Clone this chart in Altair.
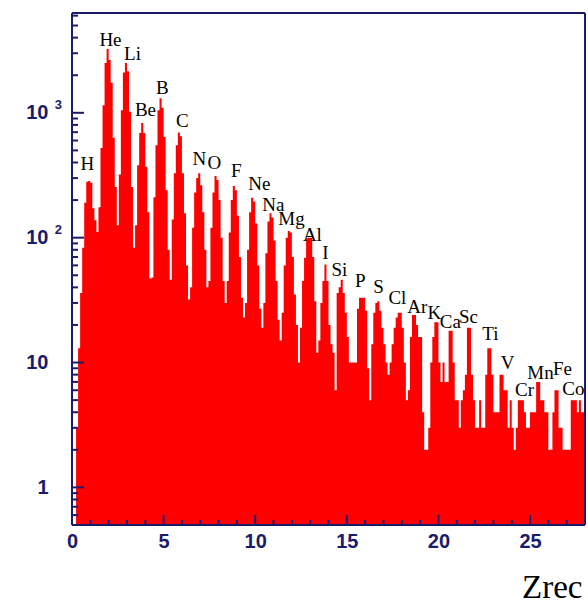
import altair as alt
import pandas as pd

# Histogram of reconstructed charge: 252 bins of width 1/9 between 0 and 28
Z_MIN, Z_MAX = 0.0, 28.0
N_BINS = 252
Y_MIN, Y_MAX = 0.5, 6300

counts = [
    0, 0, 3, 13, 36, 83, 190, 280, 285,
    275, 172, 138, 111, 175, 523, 1150, 2500, 3250,
    2650, 1740, 630, 255, 126, 320, 1050, 2100, 2500,
    2150, 1020, 255, 83, 126, 380, 690, 830, 690,
    370, 160, 47, 48, 211, 550, 1050, 1310, 1100,
    640, 240, 80, 46, 140, 328, 550, 694, 650,
    328, 157, 60, 32, 40, 120, 230, 300, 328,
    263, 160, 80, 40, 45, 120, 230, 312, 290,
    200, 100, 45, 30, 45, 110, 200, 259, 240,
    150, 70, 33, 23, 30, 80, 160, 209, 195,
    130, 60, 27, 19, 30, 75, 135, 157, 145,
    95, 45, 22, 15, 25, 60, 100, 113, 110,
    70, 35, 20, 10, 19, 45, 69, 99, 100,
    100, 70, 31, 12, 15, 30, 45, 61, 45,
    20, 14, 12, 6, 36, 40, 46, 36, 25,
    16, 10, 10, 10, 10, 27, 33, 33, 33,
    26, 9, 5, 14, 25, 30, 31, 26, 19,
    14, 10, 8, 10, 14, 19, 23, 25, 25,
    19, 10, 5, 6, 16, 24, 24, 20, 16,
    16, 4, 2, 2, 3, 10, 16, 21, 21,
    10, 7, 10, 7, 7, 18, 18, 10, 5,
    5, 3, 5, 6, 8, 19, 19, 8, 5,
    3, 3, 5, 3, 3, 8, 13, 13, 8,
    4, 4, 4, 8, 8, 6, 6, 3, 5,
    3, 2, 3, 5, 5, 5, 4, 3, 3,
    4, 4, 4, 7, 7, 5, 5, 4, 4,
    2, 2, 4, 6, 6, 3, 3, 2, 2,
    2, 2, 5, 5, 5, 4, 5, 4, 4,
]

# Element names written above the charge peaks
element_names = ["H", "He", "Li", "Be", "B", "C", "N", "O", "F", "Ne", "Na", "Mg", "Al", "I",
                 "Si", "P", "S", "Cl", "Ar", "K", "Ca", "Sc", "Ti", "V", "Cr", "Mn", "Fe", "Co"]
element_z = [0.84, 2.10, 3.30, 4.01, 4.93, 6.02, 6.95, 7.77, 8.97, 10.23, 10.99, 11.98, 13.12, 13.83,
             14.59, 15.74, 16.73, 17.76, 18.85, 19.78, 20.65, 21.64, 22.84, 23.77, 24.70, 25.57, 26.77, 27.37]
element_n = [390, 3850, 2970, 1057, 1585, 863, 428, 397, 343, 269, 183, 141, 105, 75,
             55, 45, 40, 33, 28, 25, 21, 23, 17, 10, 6.0, 8.2, 8.9, 6.1]

x_major = [0, 5, 10, 15, 20, 25]
x_minor = [v for v in range(1, 28) if v % 5]
y_major = [1, 10, 100, 1000]
y_minor = [0.6, 0.7, 0.8, 0.9] + [m * d for d in (1, 10, 100) for m in range(2, 10)] + [2000, 3000, 4000, 5000, 6000]
exponents = pd.DataFrame({"v": [1000, 100], "e": ["3", "2"]})

# Step outline: left edge of every bin, plus the right edge of the last one
bin_w = (Z_MAX - Z_MIN) / N_BINS
hist = pd.DataFrame({
    "edge": [Z_MIN + i * bin_w for i in range(N_BINS)] + [Z_MAX],
    "n": counts + [counts[-1]],
})
labels = pd.DataFrame({"name": element_names, "z": element_z, "n": element_n})

NAVY = "#1b1b6b"
RED = "#ff0000"
W, H = 513, 512

xs = alt.Scale(domain=[Z_MIN, Z_MAX], nice=False, zero=False)
ys = alt.Scale(type="log", domain=[Y_MIN, Y_MAX], nice=False)

bars = alt.Chart(hist).transform_filter("datum.n > 0").mark_area(
    color=RED, interpolate="step-after", clip=True, opacity=1
).encode(
    x=alt.X("edge:Q", scale=xs, axis=alt.Axis(
        values=x_major, format="d", domain=False, ticks=False, tickSize=0, grid=False,
        labelFlush=False, labelOverlap=False,
        labelFont="Liberation Sans", labelFontWeight="bold", labelFontSize=20,
        labelColor=NAVY, labelPadding=6,
        title="Zrec", titleFont="Liberation Serif", titleFontSize=33,
        titleFontWeight="normal", titleColor="black", titleAlign="right",
        titleBaseline="alphabetic", titleX=W - 3, titleY=72)),
    y=alt.Y("n:Q", scale=ys, axis=alt.Axis(
        values=y_major, labelExpr="datum.value >= 10 ? '10' : '1'",
        domain=False, ticks=False, tickSize=0, grid=False, labelFlush=False,
        labelFont="Liberation Sans", labelFontWeight="bold", labelFontSize=20,
        labelColor=NAVY, labelPadding=24, title=None)),
    y2=alt.datum(Y_MIN),
)

exp_text = alt.Chart(exponents).mark_text(
    align="right", baseline="middle", dy=-8, font="Liberation Sans",
    fontWeight="bold", fontSize=13, color=NAVY
).encode(x=alt.value(-10), y=alt.Y("v:Q", scale=ys), text="e:N")

names = alt.Chart(labels).mark_text(
    font="Liberation Serif", fontSize=19, color="black", baseline="middle", align="center"
).encode(x=alt.X("z:Q", scale=xs), y=alt.Y("n:Q", scale=ys), text="name:N")

def yticks(vals, length):
    return alt.Chart(pd.DataFrame({"v": vals})).mark_rule(color=NAVY, strokeWidth=2).encode(
        y=alt.Y("v:Q", scale=ys), x=alt.value(0), x2=alt.value(length))

def xticks(vals, length):
    return alt.Chart(pd.DataFrame({"v": vals})).mark_rule(color=NAVY, strokeWidth=2).encode(
        x=alt.X("v:Q", scale=xs), y=alt.value(H), y2=alt.value(H - length))

frame_df = pd.DataFrame({"k": [0]})
frame = [
    alt.Chart(frame_df).mark_rule(color=NAVY, strokeWidth=2).encode(x=alt.value(0), x2=alt.value(W), y=alt.value(0)),
    alt.Chart(frame_df).mark_rule(color=NAVY, strokeWidth=2).encode(x=alt.value(0), x2=alt.value(W), y=alt.value(H)),
    alt.Chart(frame_df).mark_rule(color=NAVY, strokeWidth=2).encode(x=alt.value(0), y=alt.value(0), y2=alt.value(H)),
    alt.Chart(frame_df).mark_rule(color=NAVY, strokeWidth=2).encode(x=alt.value(W), y=alt.value(0), y2=alt.value(H)),
]

chart = alt.layer(
    bars, names, exp_text,
    yticks(y_major, 12), yticks(y_minor, 6),
    xticks(x_major, 10), xticks(x_minor, 5),
    *frame,
).properties(
    width=W, height=H,
    autosize=alt.AutoSizeParams(type="none"),
    padding={"left": 72, "top": 13, "right": 3, "bottom": 79},
).configure_view(stroke=None)

chart.save("out.html", embed_options={"renderer": "svg", "actions": False})
